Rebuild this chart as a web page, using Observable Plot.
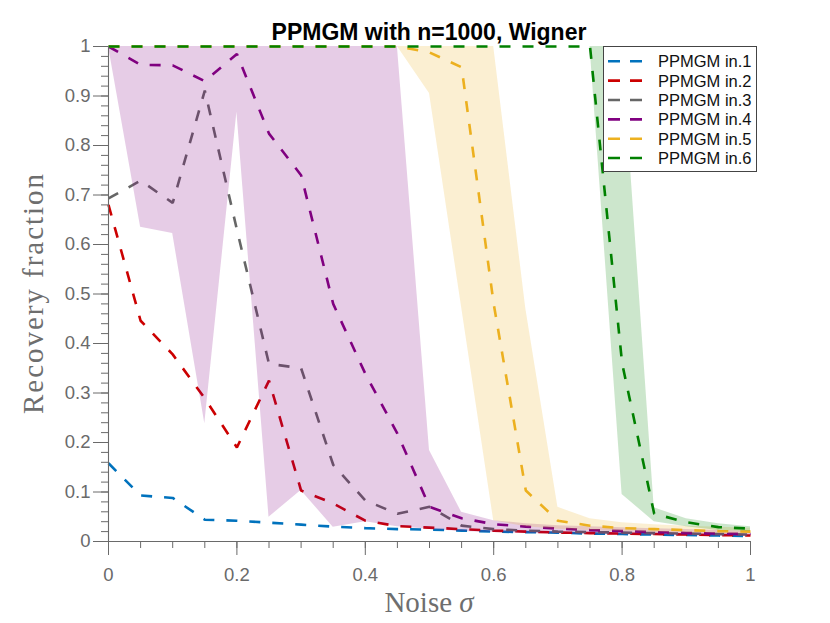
<!DOCTYPE html>
<html>
<head>
<meta charset="utf-8">
<script src="https://cdn.jsdelivr.net/npm/d3@7"></script>
<script src="https://cdn.jsdelivr.net/npm/@observablehq/plot@0.6"></script>
<style>
  html, body { margin: 0; padding: 0; background: #fff; }
</style>
</head>
<body>
<div id="chart"></div>
<script>
// ---- data ----
const xs = [0,0.05,0.1,0.15,0.2,0.25,0.3,0.35,0.4,0.45,0.5,0.55,0.6,0.65,0.7,0.75,0.8,0.85,0.9,0.95,1];

const s1 = [0.158,0.093,0.088,0.044,0.042,0.038,0.034,0.030,0.027,0.025,0.024,0.022,0.020,0.019,0.018,0.016,0.015,0.014,0.013,0.012,0.011];
const s2 = [0.68,0.446,0.378,0.289,0.19,0.325,0.103,0.077,0.042,0.031,0.028,0.025,0.022,0.020,0.018,0.017,0.016,0.015,0.014,0.013,0.012];
const s3 = [0.693,0.729,0.684,0.911,0.63,0.359,0.35,0.155,0.083,0.056,0.07,0.032,0.025,0.022,0.02,0.019,0.018,0.017,0.016,0.015,0.014];
const s4 = [1,0.963,0.962,0.93,0.985,0.824,0.74,0.48,0.339,0.218,0.07,0.047,0.035,0.03,0.026,0.023,0.021,0.019,0.017,0.016,0.015];
const s5 = [1,1,1,1,1,1,1,1,1,1,0.988,0.958,0.48,0.103,0.042,0.032,0.027,0.025,0.023,0.021,0.02];
const s6 = [1,1,1,1,1,1,1,1,1,1,1,1,1,1,1,1,0.36,0.056,0.039,0.029,0.026];

// shaded ranges (min / max)
const lo4 = [1,0.635,0.622,0.238,0.867,0.049,0.103,0.029,0.04,0.03,0.025,0.02,0.018,0.016,0.015,0.014,0.013,0.012,0.011,0.01,0.01];
const hi4 = [1,1,1,1,1,1,1,1,1,1,0.184,0.059,0.042,0.036,0.032,0.03,0.028,0.026,0.024,0.022,0.02];
const lo5 = [1,1,1,1,1,1,1,1,1,1,0.905,0.473,0.042,0.03,0.025,0.022,0.02,0.018,0.017,0.016,0.015];
const hi5 = [1,1,1,1,1,1,1,1,1,1,1,1,1,0.47,0.069,0.046,0.038,0.034,0.031,0.029,0.027];
const lo6 = [1,1,1,1,1,1,1,1,1,1,1,1,1,1,1,1,0.095,0.04,0.03,0.022,0.02];
const hi6 = [1,1,1,1,1,1,1,1,1,1,1,1,1,1,1,1,1,0.068,0.046,0.036,0.03];

const seriesNames = ["PPMGM in.1","PPMGM in.2","PPMGM in.3","PPMGM in.4","PPMGM in.5","PPMGM in.6"];
const seriesColors = ["#0072BD","#CC0000","#666666","#800080","#EDB120","#008000"];

const xTicks = [0,0.2,0.4,0.6,0.8,1];
const xTickLabels = ["0","0.2","0.4","0.6","0.8","1"];
const xMinor = [0,0.05,0.1,0.15,0.2,0.25,0.3,0.35,0.4,0.45,0.5,0.55,0.6,0.65,0.7,0.75,0.8,0.85,0.9,0.95,1];
const yTicks = [0,0.1,0.2,0.3,0.4,0.5,0.6,0.7,0.8,0.9,1];
const yTickLabels = ["0","0.1","0.2","0.3","0.4","0.5","0.6","0.7","0.8","0.9","1"];
const yMinor = [0,0.02,0.04,0.06,0.08,0.1,0.12,0.14,0.16,0.18,0.2,0.22,0.24,0.26,0.28,0.3,0.32,0.34,0.36,0.38,0.4,0.42,0.44,0.46,0.48,0.5,0.52,0.54,0.56,0.58,0.6,0.62,0.64,0.66,0.68,0.7,0.72,0.74,0.76,0.78,0.8,0.82,0.84,0.86,0.88,0.9,0.92,0.94,0.96,0.98,1];

const titleText = "PPMGM with n=1000, Wigner";
const yLabelText = "Recovery fraction";

// ---- chart ----
const AX = "#6a6a6a";
const dash = "11,12";
const lw = 2.6;
const lineOpts = (ys, i) => ({x: xs, y: ys, stroke: seriesColors[i], strokeWidth: lw, strokeDasharray: dash, strokeLinecap: "butt", strokeLinejoin: "miter"});
const bandOpts = (lo, hi, i) => ({x: xs, y1: lo, y2: hi, fill: seriesColors[i], fillOpacity: 0.2});
const tickFont = {fontSize: 18.5, fontFamily: "'Liberation Sans', Arial, Helvetica, sans-serif"};

const svg = Plot.plot({
  width: 830,
  height: 623,
  marginLeft: 108,
  marginRight: 80,
  marginTop: 46,
  marginBottom: 82,
  style: {background: "white", fontFamily: "'Liberation Sans', Arial, Helvetica, sans-serif", overflow: "visible"},
  x: {domain: [0, 1]},
  y: {domain: [0, 1]},
  marks: [
    Plot.line(xs, lineOpts(s1, 0)),
    Plot.line(xs, lineOpts(s2, 1)),
    Plot.line(xs, lineOpts(s3, 2)),
    Plot.line(xs, lineOpts(s4, 3)),
    Plot.areaY(xs, bandOpts(lo4, hi4, 3)),
    Plot.line(xs, lineOpts(s5, 4)),
    Plot.areaY(xs, bandOpts(lo5, hi5, 4)),
    Plot.line(xs, lineOpts(s6, 5)),
    Plot.areaY(xs, bandOpts(lo6, hi6, 5)),
    // axes
    Plot.axisX({ticks: xMinor, tickSize: 7, tickFormat: () => "", label: null, color: AX}),
    Plot.axisX({ticks: xTicks, tickSize: 14, tickPadding: 12, tickFormat: d => xTickLabels[xTicks.indexOf(d)], label: null, color: AX, ...tickFont}),
    Plot.axisY({ticks: yMinor, tickSize: 7, tickFormat: () => "", label: null, color: AX}),
    Plot.axisY({ticks: yTicks, tickSize: 15, tickPadding: 3, tickFormat: d => yTickLabels[yTicks.indexOf(d)], label: null, color: AX, ...tickFont}),
    Plot.ruleX([0], {stroke: AX, strokeWidth: 1.1}),
    Plot.ruleY([0], {stroke: AX, strokeWidth: 1.1})
  ]
});
document.getElementById("chart").appendChild(svg);

const s = d3.select(svg);

// title
s.append("text")
  .attr("x", 429).attr("y", 39.5)
  .attr("text-anchor", "middle")
  .attr("font-family", "'Liberation Sans', Arial, Helvetica, sans-serif")
  .attr("font-weight", "bold")
  .attr("font-size", 23)
  .attr("fill", "#000")
  .text(titleText);

// x label
const xl = s.append("text")
  .attr("x", 429).attr("y", 611.5)
  .attr("text-anchor", "middle")
  .attr("font-family", "'Liberation Serif', 'Times New Roman', serif")
  .attr("font-size", 29)
  .attr("fill", "#6e6e6e");
xl.append("tspan").text("Noise ");
xl.append("tspan").attr("font-style", "italic").text("σ");

// y label
s.append("text")
  .attr("transform", "translate(43,294) rotate(-90)")
  .attr("text-anchor", "middle")
  .attr("font-family", "'Liberation Serif', 'Times New Roman', serif")
  .attr("font-size", 29)
  .attr("textLength", 240)
  .attr("lengthAdjust", "spacing")
  .attr("fill", "#6e6e6e")
  .text(yLabelText);

// legend
const lg = s.append("g");
lg.append("rect")
  .attr("x", 603.5).attr("y", 46.5).attr("width", 153).attr("height", 125)
  .attr("fill", "white").attr("stroke", "#444").attr("stroke-width", 1);
seriesNames.forEach((name, i) => {
  const cy = 61.3 + i * 19.35;
  lg.append("line")
    .attr("x1", 608).attr("x2", 642).attr("y1", cy).attr("y2", cy)
    .attr("stroke", seriesColors[i]).attr("stroke-width", lw)
    .attr("stroke-dasharray", "12,10");
  lg.append("text")
    .attr("x", 658).attr("y", cy).attr("dy", "0.36em")
    .attr("text-anchor", "start")
    .attr("font-family", "'Liberation Sans', Arial, Helvetica, sans-serif")
    .attr("font-size", 16.5)
    .attr("fill", "#111")
    .text(name);
});
</script>
</body>
</html>
